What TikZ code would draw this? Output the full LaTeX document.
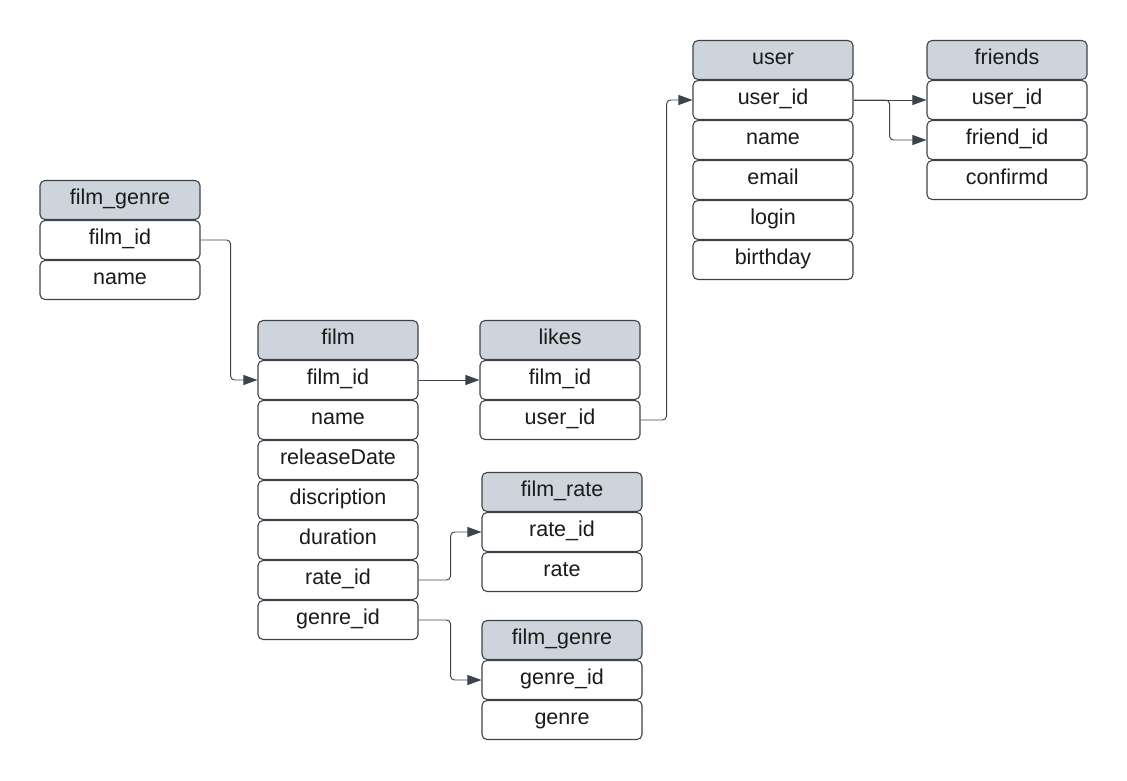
\documentclass[tikz,border=0pt]{standalone}
\usepackage{fontspec}
\setmainfont{Liberation Sans}
\usetikzlibrary{arrows.meta}
\definecolor{hdr}{HTML}{CED4DB}
\definecolor{edgec}{HTML}{3D434B}
\definecolor{txt}{HTML}{1A1A1A}
\tikzset{
 cell/.style={draw=edgec, line width=1.1pt, rounded corners=5pt, minimum width=160pt, minimum height=39pt, inner sep=0pt, text height=14pt, text depth=6pt, font=\fontsize{21.5}{25}\selectfont, fill=white, text=txt},
 hcell/.style={cell, fill=hdr},
 link/.style={draw=edgec, line width=0.95pt, rounded corners=4pt, -{Triangle[length=14pt,width=10pt]}},
}
\begin{document}
\begin{tikzpicture}[x=1pt,y=-1pt]
\useasboundingbox (0,0) rectangle (1127,780);
% film_genre (top-left)
\node[hcell] (fgh) at (120,200) {film\_genre};
\node[cell] (fgid) at (120,240) {film\_id};
\node[cell] (fgname) at (120,280) {name};
% film
\node[hcell] (fh) at (338,340) {film};
\node[cell] (fid) at (338,380) {film\_id};
\node[cell] (fname) at (338,420) {name};
\node[cell] (frel) at (338,460) {releaseDate};
\node[cell] (fdis) at (338,500) {discription};
\node[cell] (fdur) at (338,540) {duration};
\node[cell] (frate) at (338,580) {rate\_id};
\node[cell] (fgen) at (338,620) {genre\_id};
% likes
\node[hcell] (lh) at (560,340) {likes};
\node[cell] (lfid) at (560,380) {film\_id};
\node[cell] (luid) at (560,420) {user\_id};
% user
\node[hcell] (uh) at (773,60) {user};
\node[cell] (uid) at (773,100) {user\_id};
\node[cell] (uname) at (773,140) {name};
\node[cell] (uemail) at (773,180) {email};
\node[cell] (ulogin) at (773,220) {login};
\node[cell] (ubirth) at (773,260) {birthday};
% friends
\node[hcell] (frh) at (1007,60) {friends};
\node[cell] (fruid) at (1007,100) {user\_id};
\node[cell] (frfid) at (1007,140) {friend\_id};
\node[cell] (frconf) at (1007,180) {confirmd};
% film_rate
\node[hcell] (rh) at (562,492) {film\_rate};
\node[cell] (rid) at (562,532) {rate\_id};
\node[cell] (rrate) at (562,572) {rate};
% film_genre (bottom)
\node[hcell] (gh) at (562,640) {film\_genre};
\node[cell] (gid) at (562,680) {genre\_id};
\node[cell] (ggenre) at (562,720) {genre};
% connectors
\draw[link] (fgid.east) -- ++(30,0) |- (fid.west);
\draw[link] (fid.east) -- (lfid.west);
\draw[link] (luid.east) -- ++(26,0) |- (uid.west);
\draw[link] (uid.east) -- (fruid.west);
\draw[link] (uid.east) -- ++(36,0) |- (frfid.west);
\draw[link] (frate.east) -- ++(32,0) |- (rid.west);
\draw[link] (fgen.east) -- ++(32,0) |- (gid.west);
\end{tikzpicture}
\end{document}
